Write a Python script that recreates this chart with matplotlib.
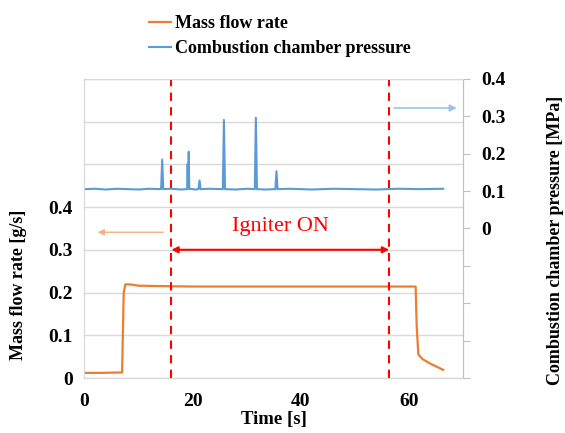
import matplotlib
matplotlib.use("Agg")
import matplotlib.pyplot as plt
import numpy as np

plt.rcParams["font.family"] = ["Liberation Serif", "DejaVu Serif"]
plt.rcParams["font.weight"] = "bold"
plt.rcParams["axes.labelweight"] = "bold"

# mass flow rate [g/s]
flow_t = [0, 3, 7.0, 7.3, 7.6, 8.5, 10, 14, 20, 30, 40, 50, 61.2, 61.4, 61.7, 62.5, 64.0, 65.5, 66.3]
flow_v = [0.012, 0.012, 0.013, 0.20, 0.219, 0.219, 0.216, 0.215, 0.214, 0.214, 0.214, 0.214, 0.214, 0.12, 0.055, 0.044, 0.033, 0.024, 0.019]

# combustion chamber pressure [MPa]
pres_t = [0.0, 2.0, 4.0, 6.0, 8.0, 10.0, 12.0, 14.2, 14.4, 14.6, 16.0, 18.0,
          19.0, 19.1, 19.2, 19.3, 19.4, 19.5, 20.5, 21.1, 21.3, 21.5, 23.0,
          25.6, 25.8, 26.0, 28.0, 30.0, 31.5, 31.7, 31.9, 33.5, 35.3, 35.5,
          35.7, 38.0, 42.0, 46.0, 50.0, 54.0, 58.0, 62.0, 66.3]
pres_v = [0.105, 0.106, 0.104, 0.106, 0.105, 0.104, 0.106, 0.105, 0.184, 0.105, 0.106, 0.104,
          0.105, 0.172, 0.110, 0.205, 0.105, 0.106, 0.104, 0.105, 0.128, 0.105, 0.106,
          0.105, 0.290, 0.105, 0.104, 0.106, 0.105, 0.296, 0.105, 0.104, 0.105, 0.153,
          0.105, 0.106, 0.104, 0.106, 0.105, 0.104, 0.106, 0.105, 0.106]

ignite_on = 16.1
ignite_off = 56.3

orange = "#ed7d31"
blue = "#5b9bd5"

fig = plt.figure(figsize=(5.65, 4.33), dpi=100)
ax = fig.add_axes([0.149, 0.127, 0.671, 0.691])
ax2 = ax.twinx()

ax.set_xlim(0, 70)
ax.set_ylim(0, 0.7)
ax2.set_ylim(-0.4, 0.4)

ax.set_xticks([0, 20, 40, 60])
ax.set_yticks(np.arange(0, 0.71, 0.1))
ax.set_yticklabels(["0", "0.1", "0.2", "0.3", "0.4", "", "", ""])
ax.grid(axis="y", color="#d9d9d9", lw=1)
ax.tick_params(axis="both", length=0, labelsize=14, pad=8)
ax.tick_params(axis="x", pad=11)

ax2.set_yticks(np.arange(-0.4, 0.41, 0.1))
ax2.set_yticklabels(["", "", "", "", "0", "0.1", "0.2", "0.3", "0.4"])
ax2.tick_params(axis="y", length=5, color="#bfbfbf", labelsize=14, pad=8)

for a in (ax, ax2):
    for s in a.spines.values():
        s.set_color("#d9d9d9")
ax.spines["left"].set_color("#bfbfbf")
ax.spines["bottom"].set_color("#bfbfbf")
ax2.spines["right"].set_color("#bfbfbf")

ax.plot(flow_t, flow_v, color=orange, lw=1.6, label="Mass flow rate")
ax2.plot(pres_t, pres_v, color=blue, lw=1.5, label="Combustion chamber pressure")

for t in (ignite_on, ignite_off):
    ax.axvline(t, color="red", ls=(0, (4, 3)), lw=1.5, zorder=4)

ax.annotate("", xy=(ignite_on, 0.3), xytext=(ignite_off, 0.3),
            arrowprops=dict(arrowstyle="<|-|>", color="red", lw=1.5,
                            mutation_scale=9, shrinkA=0, shrinkB=0))
ax.text((ignite_on + ignite_off) / 2, 0.355, "Igniter ON", color="red",
        fontsize=16, fontweight="normal", ha="center", va="center")

ax.annotate("", xy=(2.5, 0.341), xytext=(14.6, 0.341),
            arrowprops=dict(arrowstyle="-|>", color="#f4b183", lw=1,
                            mutation_scale=9, shrinkA=0, shrinkB=0))
ax2.annotate("", xy=(68.8, 0.322), xytext=(57.2, 0.322),
             arrowprops=dict(arrowstyle="-|>", color="#9dc3e6", lw=1.2,
                             mutation_scale=10, shrinkA=0, shrinkB=0))

ax.set_xlabel("Time [s]", fontsize=13.5)
ax.xaxis.set_label_coords(0.5, -0.11)
ax.set_ylabel("Mass flow rate [g/s]", fontsize=13)
ax.yaxis.set_label_coords(-0.15, 0.31)
ax2.set_ylabel("Combustion chamber pressure [MPa]", fontsize=13)
ax2.yaxis.set_label_coords(1.22, 0.46)

h1, l1 = ax.get_legend_handles_labels()
h2, l2 = ax2.get_legend_handles_labels()
fig.legend(h1 + h2, l1 + l2, loc="upper left", bbox_to_anchor=(0.245, 0.99),
           frameon=False, fontsize=13, handlelength=1.2, handletextpad=0.2,
           labelspacing=0.45, borderaxespad=0.2)

fig.savefig("out.png", dpi=100)
